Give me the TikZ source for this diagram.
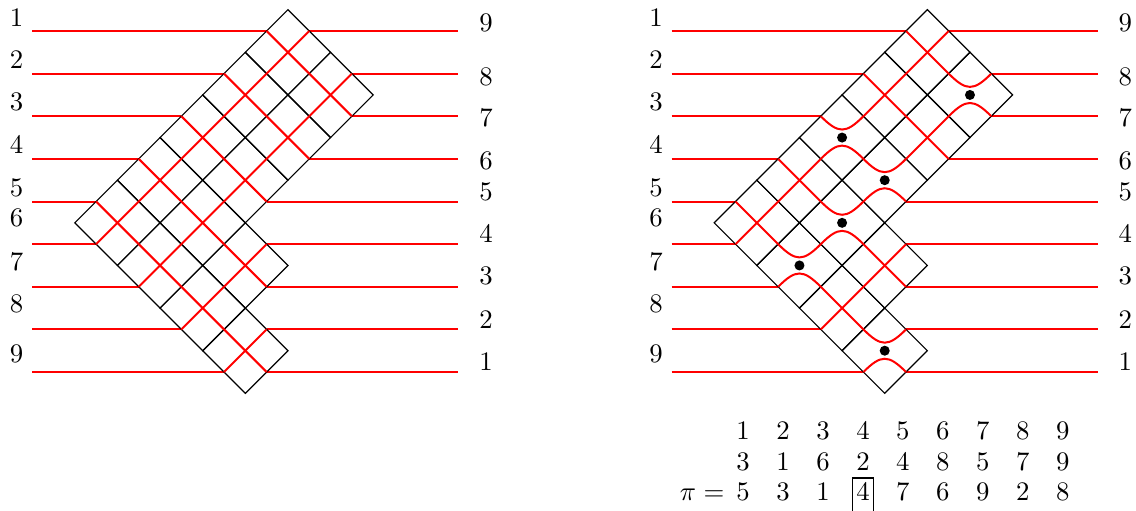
\documentclass[tikz,border=0pt]{standalone}
\tikzset{
  gridline/.style={black, line width=0.45pt},
  wire/.style={red, line width=0.75pt},
  lbl/.style={inner sep=0pt},
  dotmark/.style={fill=black},
  boxed/.style={draw, inner sep=1.5pt, text height=6.9pt, text depth=2.5pt, line width=0.45pt},
}
\begin{document}
\begin{tikzpicture}[x=0.28cm, y=-0.28cm]
\useasboundingbox (-13.51,-0.455) rectangle (39.79,23.48);
\foreach \ox in {0,30} {
  \begin{scope}[shift={(\ox,0)}]
    % horizontal wires
    \foreach \k/\el/\er in {1/-1/1, 2/-3/3, 3/-5/3, 4/-7/1, 5/-9/-1, 6/-9/-1, 7/-7/-1, 8/-5/-1, 9/-3/-1} {
      \draw[wire] (-12,{2*\k-1}) -- (\el,{2*\k-1});
      \draw[wire] (\er,{2*\k-1}) -- (8,{2*\k-1});
    }
    % grid cells
    \foreach \cx/\cy in {0/2, 2/4, -2/4, 0/6, -4/6, -2/8, -6/8, -4/10, -2/12, -8/10, -6/12, -4/14, -2/16} {
      \draw[gridline] ({\cx-2},\cy) -- (\cx,{\cy-2}) -- ({\cx+2},\cy) -- (\cx,{\cy+2}) -- cycle;
    }
    % left labels
    \foreach \t/\yy in {1/0.39, 2/2.36, 3/4.33, 4/6.35, 5/8.37, 6/9.77, 7/11.84, 8/13.81, 9/16.15} {
      \node[lbl] (l\t x\ox) at (-12.73,\yy) {$\t$};
    }
    % right labels
    \foreach \t/\yy in {9/0.62, 8/3.16, 7/5.08, 6/7.1, 5/8.55, 4/10.53, 3/12.5, 2/14.56, 1/16.53} {
      \node[lbl] (r\t x\ox) at (9.29,\yy) {$\t$};
    }
  \end{scope}
}
% left diagram: all crossings
\foreach \cx/\cy in {0/2, 2/4, -2/4, 0/6, -4/6, -2/8, -6/8, -4/10, -2/12, -8/10, -6/12, -4/14, -2/16} {
  \draw[wire] ({\cx-1},{\cy-1}) -- ({\cx+1},{\cy+1});
  \draw[wire] ({\cx+1},{\cy-1}) -- ({\cx-1},{\cy+1});
}
% right diagram: crossings
\foreach \cx/\cy in {0/2, -2/4, 0/6, -6/8, -2/12, -8/10, -4/14} {
  \draw[wire] ({\cx+29},{\cy-1}) -- ({\cx+31},{\cy+1});
  \draw[wire] ({\cx+31},{\cy-1}) -- ({\cx+29},{\cy+1});
}
% right diagram: bumps
\foreach \cx/\cy in {2/4, -4/6, -2/8, -4/10, -6/12, -2/16} {
  \draw[wire] ({\cx+29},{\cy-1}) .. controls +(0.83,0.83) and +(-0.83,0.83) .. ({\cx+31},{\cy-1});
  \draw[wire] ({\cx+29},{\cy+1}) .. controls +(0.83,-0.83) and +(-0.83,-0.83) .. ({\cx+31},{\cy+1});
  \fill[dotmark] ({\cx+30},\cy) circle[radius=0.235];
}
% permutation table
\foreach \v [count=\j] in {1,2,3,4,5,6,7,8,9} {
  \node[lbl, anchor=base] (a\j) at ({21.35+(\j-1)*1.876},20.17) {$\v$};
}
\foreach \v [count=\j] in {3,1,6,2,4,8,5,7,9} {
  \node[lbl, anchor=base] (b\j) at ({21.35+(\j-1)*1.876},21.63) {$\v$};
}
\foreach \v [count=\j] in {5,3,1,4,7,6,9,2,8} {
  \ifnum\j=4
    \node[boxed, anchor=base] (c\j) at ({21.35+(\j-1)*1.876},23.03) {$\v$};
  \else
    \node[lbl, anchor=base] (c\j) at ({21.35+(\j-1)*1.876},23.03) {$\v$};
  \fi
}
\node[lbl, anchor=base east] (pi) at (20.5,23.03) {$\pi =$};
\end{tikzpicture}
\end{document}
